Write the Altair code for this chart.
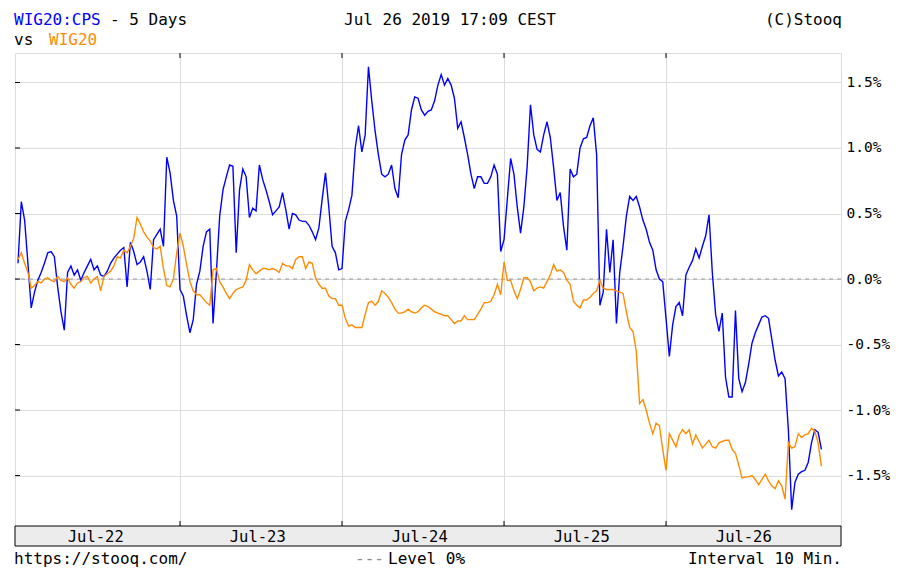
import altair as alt
import pandas as pd

# ---------------- data ----------------
DAY_LABELS = ["Jul-22", "Jul-23", "Jul-24", "Jul-25", "Jul-26"]
STEPS_PER_DAY = 49          # 10-minute quotes per session (09:00 ... 17:00)
Y_TICKS = [-1.5, -1.0, -0.5, 0.0, 0.5, 1.0, 1.5]
DAY_BOUNDS = [1, 2, 3, 4]

# WIG20:CPS, % change vs. start, one list per session
cps_jul22 = [0.12, 0.59, 0.45, 0.12, -0.22, -0.10, -0.01, 0.05, 0.12, 0.20,
             0.21, 0.17, -0.06, -0.25, -0.39, 0.05, 0.10, 0.03, 0.07, -0.01,
             0.05, 0.10, 0.15, 0.07, 0.10, 0.03, 0.02, 0.06, 0.12, 0.16,
             0.19, 0.22, 0.24, -0.06, 0.28, 0.21, 0.11, 0.13, 0.17, 0.06,
             -0.08, 0.30, 0.34, 0.38, 0.25, 0.93, 0.81, 0.60, 0.48]
cps_jul23 = [-0.08, -0.13, -0.28, -0.41, -0.31, -0.04, 0.06, 0.25, 0.36, 0.38,
             -0.34, 0.05, 0.48, 0.68, 0.78, 0.87, 0.86, 0.20, 0.68, 0.84,
             0.78, 0.47, 0.54, 0.52, 0.87, 0.76, 0.68, 0.59, 0.49, 0.52,
             0.55, 0.66, 0.53, 0.38, 0.50, 0.49, 0.45, 0.44, 0.44, 0.41,
             0.36, 0.30, 0.39, 0.61, 0.81, 0.55, 0.25, 0.20, 0.07]
cps_jul24 = [0.08, 0.44, 0.53, 0.64, 1.00, 1.17, 0.97, 1.10, 1.62, 1.36,
             1.13, 0.95, 0.80, 0.78, 0.80, 0.87, 0.69, 0.62, 0.95, 1.06,
             1.10, 1.29, 1.39, 1.38, 1.29, 1.25, 1.28, 1.29, 1.36, 1.48,
             1.56, 1.48, 1.53, 1.48, 1.38, 1.15, 1.20, 1.08, 0.95, 0.80,
             0.69, 0.78, 0.78, 0.73, 0.73, 0.78, 0.87, 0.80, 0.21]
cps_jul25 = [0.30, 0.61, 0.92, 0.80, 0.55, 0.35, 0.55, 0.86, 1.33, 1.10,
             0.99, 0.97, 1.10, 1.20, 1.08, 0.85, 0.60, 0.66, 0.40, 0.22,
             0.84, 0.78, 0.80, 1.00, 1.07, 1.08, 1.17, 1.23, 0.95, -0.20,
             -0.10, 0.38, 0.05, 0.30, -0.34, 0.05, 0.25, 0.48, 0.63, 0.60,
             0.63, 0.55, 0.45, 0.38, 0.28, 0.22, 0.07, 0.00, -0.02]
cps_jul26 = [-0.30, -0.59, -0.35, -0.21, -0.18, -0.28, 0.03, 0.09, 0.14, 0.23,
             0.16, 0.25, 0.33, 0.49, 0.05, -0.27, -0.40, -0.26, -0.75, -0.90,
             -0.90, -0.24, -0.76, -0.86, -0.79, -0.65, -0.49, -0.41, -0.35, -0.29,
             -0.28, -0.30, -0.46, -0.62, -0.74, -0.71, -0.76, -1.15, -1.76, -1.55,
             -1.49, -1.47, -1.46, -1.40, -1.25, -1.15, -1.17, -1.30]

# WIG20 index, % change vs. start
wig_jul22 = [0.15, 0.20, 0.12, 0.05, -0.07, -0.05, -0.02, -0.03, 0.00, 0.01,
             -0.01, -0.02, 0.02, -0.01, -0.02, 0.01, -0.04, -0.07, -0.03, -0.02,
             0.01, 0.02, -0.03, 0.00, 0.02, -0.09, 0.02, 0.04, 0.06, 0.10,
             0.17, 0.16, 0.22, 0.20, 0.25, 0.31, 0.47, 0.42, 0.36, 0.32,
             0.29, 0.24, 0.23, 0.25, 0.08, -0.05, -0.06, 0.00, 0.20]
wig_jul23 = [0.35, 0.25, 0.11, -0.02, -0.09, -0.12, -0.12, -0.15, -0.18, -0.20,
             0.07, 0.08, -0.02, -0.06, -0.11, -0.15, -0.11, -0.08, -0.07, -0.06,
             -0.01, 0.11, 0.07, 0.04, 0.06, 0.08, 0.08, 0.07, 0.08, 0.07,
             0.05, 0.12, 0.10, 0.10, 0.08, 0.15, 0.17, 0.17, 0.08, 0.13,
             0.12, 0.01, -0.04, -0.07, -0.07, -0.13, -0.15, -0.15, -0.20]
wig_jul24 = [-0.20, -0.30, -0.36, -0.35, -0.37, -0.37, -0.37, -0.27, -0.18, -0.17,
             -0.20, -0.17, -0.09, -0.11, -0.14, -0.18, -0.23, -0.26, -0.26, -0.25,
             -0.23, -0.25, -0.26, -0.25, -0.22, -0.20, -0.21, -0.23, -0.25, -0.26,
             -0.27, -0.28, -0.28, -0.31, -0.34, -0.32, -0.32, -0.28, -0.31, -0.31,
             -0.31, -0.27, -0.23, -0.18, -0.18, -0.17, -0.12, -0.04, -0.12]
wig_jul25 = [0.13, -0.01, -0.01, -0.09, -0.15, -0.08, 0.01, 0.01, -0.02, -0.09,
             -0.07, -0.06, -0.07, -0.02, 0.03, 0.11, 0.06, 0.07, 0.05, -0.01,
             -0.04, -0.17, -0.20, -0.22, -0.16, -0.16, -0.14, -0.11, -0.09, -0.01,
             -0.07, -0.08, -0.08, -0.08, -0.09, -0.10, -0.11, -0.25, -0.37, -0.40,
             -0.55, -0.95, -0.92, -1.00, -1.10, -1.18, -1.10, -1.12, -1.30]
wig_jul26 = [-1.46, -1.18, -1.23, -1.28, -1.19, -1.15, -1.18, -1.15, -1.26, -1.19,
             -1.24, -1.29, -1.26, -1.23, -1.28, -1.29, -1.25, -1.24, -1.23, -1.23,
             -1.30, -1.33, -1.42, -1.52, -1.51, -1.51, -1.50, -1.53, -1.57, -1.53,
             -1.49, -1.54, -1.58, -1.60, -1.54, -1.58, -1.68, -1.25, -1.29, -1.28,
             -1.18, -1.21, -1.19, -1.18, -1.14, -1.16, -1.25, -1.43]

cps_days = [cps_jul22, cps_jul23, cps_jul24, cps_jul25, cps_jul26]
wig_days = [wig_jul22, wig_jul23, wig_jul24, wig_jul25, wig_jul26]

rows = []
for d, (cps, wig) in enumerate(zip(cps_days, wig_days)):
    for k, val in enumerate(cps):
        rows.append({"t": d + k / STEPS_PER_DAY, "v": val, "s": "WIG20:CPS"})
    for k, val in enumerate(wig):
        rows.append({"t": d + k / STEPS_PER_DAY, "v": val, "s": "WIG20"})
df = pd.DataFrame(rows)

# ---------------- styling ----------------
FONT = "DejaVu Sans Mono"
BLUE = "#0000ff"
ORANGE = "#ff8c00"
GRID = "#dcdcdc"
W, H = 826, 473
BAND = 20

x_scale = alt.Scale(domain=[-0.0185, 5.08], nice=False, zero=False)
y_scale = alt.Scale(domain=[-1.885, 1.725], nice=False, zero=False)

X_AXIS = alt.Axis(values=DAY_BOUNDS, grid=True, gridColor=GRID, labels=False,
                  ticks=False, domain=False, title=None)
Y_AXIS = alt.Axis(orient="right", values=Y_TICKS, grid=True, gridColor=GRID,
                  ticks=False, domain=False, labelPadding=5,
                  labelAlign="left", labelBaseline="middle",
                  labelFont=FONT, labelFontSize=14.5, labelColor="black",
                  labelExpr="(datum.value < 0 ? '-' : '') + format(abs(datum.value), '.1f') + '%'",
                  title=None)


def xe():
    return alt.X("t:Q", scale=x_scale, axis=X_AXIS)


def ye():
    return alt.Y("v:Q", scale=y_scale, axis=Y_AXIS)


one = alt.Data(values=[{}])

band = alt.Chart(one).mark_rect(fill="#ececec", stroke="black", strokeWidth=1).encode(
    x=alt.value(0), x2=alt.value(W), y=alt.value(H), y2=alt.value(H + BAND))

level = alt.Chart(pd.DataFrame({"v": [0.0]})).mark_rule(
    color="#999999", strokeDash=[4, 4], strokeWidth=1).encode(y=ye())

cps_line = alt.Chart(df).transform_filter(alt.datum.s == "WIG20:CPS").mark_line(
    color=BLUE, strokeWidth=1.4).encode(x=xe(), y=ye())
wig_line = alt.Chart(df).transform_filter(alt.datum.s == "WIG20").mark_line(
    color=ORANGE, strokeWidth=1.4).encode(x=xe(), y=ye())

ticks_df = pd.DataFrame({"v": Y_TICKS})
left_ticks = alt.Chart(ticks_df).mark_rule(color="black").encode(
    y=ye(), x=alt.value(0), x2=alt.value(5))
bounds_df = pd.DataFrame({"t": DAY_BOUNDS})
top_ticks = alt.Chart(bounds_df).mark_rule(color="black").encode(
    x=xe(), y=alt.value(0), y2=alt.value(5))
bot_ticks = alt.Chart(bounds_df).mark_rule(color="black").encode(
    x=xe(), y=alt.value(H - 5), y2=alt.value(H))

day_df = pd.DataFrame({"t": [d + 0.48 for d in range(len(DAY_LABELS))], "label": DAY_LABELS})
day_text = alt.Chart(day_df).mark_text(font=FONT, fontSize=15.5, color="black",
                                        baseline="alphabetic").encode(
    x=xe(), y=alt.value(H + 15.7), text="label:N")


def note(text, x, y, color="black", align="left"):
    return alt.Chart(one).mark_text(text=text, font=FONT, fontSize=16, color=color,
                                    align=align, baseline="alphabetic").encode(
        x=alt.value(x), y=alt.value(y))


FOOT_Y = 511
notes = [
    note("WIG20:CPS", -1, -28, BLUE),
    note("- 5 Days", 95, -28),
    note("Jul 26 2019 17:09 CEST", 435, -28, align="center"),
    note("(C)Stooq", 827, -28, align="right"),
    note("vs", -1, -8),
    note("WIG20", 34, -8, ORANGE),
    note("https://stooq.com/", -1, FOOT_Y),
    note("---", 340, FOOT_Y, "#888888"),
    note("Level 0%", 373, FOOT_Y),
    note("Interval 10 Min.", 827, FOOT_Y, align="right"),
]

chart = alt.layer(
    band, level, cps_line, wig_line, left_ticks, top_ticks, bot_ticks, day_text, *notes
).properties(
    width=W, height=H,
    padding={"left": 7, "top": 45, "right": 49, "bottom": 42},
    autosize=alt.AutoSizeParams(type="none"),
).configure_view(stroke="black", strokeWidth=1).configure(background="white")

chart.save("out.html", embed_options={"renderer": "svg", "actions": False})
